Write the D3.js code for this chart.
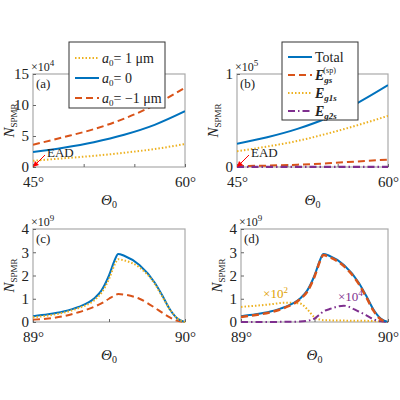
<!DOCTYPE html>
<html><head><meta charset="utf-8">
<script src="https://cdn.jsdelivr.net/npm/d3@7"></script>
<style>body{margin:0;background:#fff}text{font-family:"Liberation Serif",serif;fill:#222}</style>
</head><body><div id="chart"></div>
<script>
// panel (a)/(b): theta 45..60
const thA = [45, 48, 51, 54, 57, 60]
const aPlus = [1.0, 1.4, 1.8, 2.3, 2.9, 3.7]      // x1e4
const aZero = [2.4, 3.1, 4.0, 5.2, 6.8, 9.0]
const aMinus = [3.6, 4.8, 6.1, 7.8, 10.0, 12.8]
const bTotal = [0.25, 0.32, 0.41, 0.53, 0.69, 0.88] // x1e5
const bGs = [0.01, 0.015, 0.025, 0.04, 0.06, 0.08]
const bG1 = [0.17, 0.22, 0.28, 0.36, 0.45, 0.55]
const bG2 = [0, 0, 0, 0, 0, 0]
// panel (c)/(d): theta 89..90
const thC = [89, 89.1, 89.2, 89.3, 89.4, 89.45, 89.5, 89.54, 89.56, 89.6, 89.7, 89.8, 89.85, 89.9, 89.95, 90]
const cTotal = [0.25, 0.33, 0.45, 0.65, 1.0, 1.35, 2.0, 2.7, 2.93, 2.85, 2.45, 1.7, 1.15, 0.55, 0.15, 0]
const cPlus = [0.2, 0.28, 0.4, 0.6, 0.92, 1.25, 1.85, 2.5, 2.7, 2.65, 2.35, 1.65, 1.1, 0.55, 0.15, 0]
const cMinus = [0.1, 0.15, 0.25, 0.42, 0.65, 0.8, 1.0, 1.15, 1.2, 1.18, 1.0, 0.62, 0.4, 0.2, 0.05, 0]
const dGs = [0.22, 0.3, 0.42, 0.62, 0.97, 1.3, 1.95, 2.65, 2.88, 2.8, 2.4, 1.65, 1.1, 0.5, 0.12, 0]
const dG1 = [0.65, 0.7, 0.76, 0.83, 0.8, 0.55, 0.2, 0.1, 0.08, 0.07, 0.06, 0.05, 0.05, 0.04, 0.03, 0.02]
const dG2 = [0, 0, 0, 0.01, 0.02, 0.05, 0.15, 0.35, 0.45, 0.55, 0.7, 0.45, 0.3, 0.12, 0.03, 0]

const blue = '#0072BD', orange = '#D95319', yellow = '#EDB120', purple = '#7E2F8E'
const solid = null, dash = '7,4', dot = '1.5,2', dashdot = '7,3,1.5,3'

const svg = d3.select('#chart').append('svg').attr('width', 400).attr('height', 400)

function panel(box, xd, yd, xt, xfmt, yt, exp, label, series) {
  const x = d3.scaleLinear().domain(xd).range([box.x0, box.x1])
  const y = d3.scaleLinear().domain(yd).range([box.y1, box.y0])
  const g = svg.append('g')
  g.append('rect').attr('x', box.x0).attr('y', box.y0).attr('width', box.x1 - box.x0)
    .attr('height', box.y1 - box.y0).attr('fill', '#fff').attr('stroke', '#aaa').attr('stroke-width', 1.2)
  const ax = g.append('g').attr('transform', `translate(0,${box.y1})`)
    .call(d3.axisBottom(x).tickValues(xt).tickSize(-3).tickFormat(xfmt))
  const ay = g.append('g').attr('transform', `translate(${box.x0},0)`)
    .call(d3.axisLeft(y).tickValues(yt).tickSize(-3).tickFormat(d3.format('d')))
  ;[ax, ay].forEach(a => {
    a.select('.domain').remove()
    a.selectAll('line').attr('stroke', '#666')
    a.selectAll('text').style('font-size', '15px').attr('fill', '#222')
  })
  ax.selectAll('text').attr('dy', '1.1em')
  ax.selectAll('.tick').filter((d, i) => i > 0 && i < xt.length - 1).select('text').remove()
  ay.selectAll('text').attr('dx', '-1px')
  const t = g.append('text').attr('x', box.x0 - 2).attr('y', box.y0 - 3).style('font-size', '12px')
  t.append('tspan').text('×10')
  t.append('tspan').text(exp).attr('dy', -5).style('font-size', '9px')
  g.append('text').attr('x', box.x0 + 3).attr('y', box.y0 + 14).style('font-size', '13px').text(label)
  const yl = g.append('text').attr('transform', `translate(${box.x0 - 19},${(box.y0 + box.y1) / 2}) rotate(-90)`)
    .attr('text-anchor', 'middle').style('font-size', '15px').style('font-style', 'italic')
  yl.append('tspan').text('N')
  yl.append('tspan').text('SPMR').style('font-style', 'normal').style('font-size', '9px').attr('dy', 3)
  const xl = g.append('text').attr('x', (box.x0 + box.x1) / 2).attr('y', box.y1 + 38)
    .attr('text-anchor', 'middle').style('font-size', '15px').style('font-style', 'italic')
  xl.append('tspan').text('Θ')
  xl.append('tspan').text('0').style('font-style', 'normal').style('font-size', '10px').attr('dy', 3)
  const clip = 'clip' + label.replace(/\W/g, '')
  svg.append('clipPath').attr('id', clip).append('rect').attr('x', box.x0).attr('y', box.y0 - 1)
    .attr('width', box.x1 - box.x0).attr('height', box.y1 - box.y0 + 2)
  series.forEach(s => {
    g.append('path').datum(s.v).attr('clip-path', `url(#${clip})`)
      .attr('d', d3.line().x((d, i) => x(s.x[i])).y(d => y(d)).curve(d3.curveMonotoneX))
      .attr('fill', 'none').attr('stroke', s.c).attr('stroke-width', s.w || 2)
      .attr('stroke-dasharray', s.d)
  })
  return { x, y, g }
}

const degA = d => d + '°'
const pa = panel({ x0: 33, x1: 185, y0: 74, y1: 167 }, [45, 60], [0, 15], [45, 50, 55, 60], degA, [0, 5, 10, 15], '4', '(a)', [
  { x: thA, v: aPlus, c: yellow, d: dot },
  { x: thA, v: aZero, c: blue, d: solid },
  { x: thA, v: aMinus, c: orange, d: dash }
])
const pb = panel({ x0: 237, x1: 388, y0: 74, y1: 167 }, [45, 60], [0, 1], [45, 50, 55, 60], degA, [0, 1], '5', '(b)', [
  { x: thA, v: bTotal, c: blue, d: solid },
  { x: thA, v: bGs, c: orange, d: dash },
  { x: thA, v: bG1, c: yellow, d: dot },
  { x: thA, v: bG2, c: purple, d: dashdot, w: 2.5 }
])
const pc = panel({ x0: 33, x1: 185, y0: 229, y1: 322 }, [89, 90], [0, 4], [89, 89.5, 90], degA, [0, 1, 2, 3, 4], '9', '(c)', [
  { x: thC, v: cMinus, c: orange, d: dash },
  { x: thC, v: cTotal, c: blue, d: solid },
  { x: thC, v: cPlus, c: yellow, d: dot }
])
const pd = panel({ x0: 241, x1: 388, y0: 229, y1: 322 }, [89, 90], [0, 4], [89, 89.5, 90], degA, [0, 1, 2, 3, 4], '9', '(d)', [
  { x: thC, v: dG1, c: yellow, d: dot },
  { x: thC, v: dG2, c: purple, d: dashdot },
  { x: thC, v: cTotal, c: blue, d: solid },
  { x: thC, v: dGs, c: orange, d: dash, w: 2.5 }
])

// EAD arrows
;[pa, pb].forEach(p => {
  const x0 = p.x(45), y0 = p.y(0)
  p.g.append('line').attr('x1', x0 + 12).attr('y1', y0 - 12).attr('x2', x0 + 2).attr('y2', y0 - 2)
    .attr('stroke', 'red').attr('stroke-width', 1)
  p.g.append('path').attr('d', `M${x0},${y0}l6,-2l-4,-4z`).attr('fill', 'red')
  p.g.append('text').attr('x', x0 + 14).attr('y', y0 - 10).style('font-size', '13px').attr('fill', 'red').text('EAD')
})

// multiplier notes in (d)
function note(x, y, exp, col) {
  const t = svg.append('text').attr('x', x).attr('y', y).style('font-size', '13px').attr('fill', col)
  t.append('tspan').text('×10').attr('fill', col)
  t.append('tspan').text(exp).attr('dy', -5).style('font-size', '9px').attr('fill', col)
}
note(pd.x(89.15), pd.y(1.05), '2', '#e0a000')
note(pd.x(89.66), pd.y(0.9), '4', purple)

// legends
function legend(x0, y0, w, items, rowH) {
  const g = svg.append('g')
  g.append('rect').attr('x', x0).attr('y', y0).attr('width', w).attr('height', items.length * rowH + 6)
    .attr('fill', '#fff').attr('stroke', '#333').attr('stroke-width', 1)
  items.forEach((it, i) => {
    const yy = y0 + 6 + rowH * (i + 0.5)
    g.append('line').attr('x1', x0 + 6).attr('x2', x0 + 30).attr('y1', yy).attr('y2', yy)
      .attr('stroke', it.c).attr('stroke-width', 2).attr('stroke-dasharray', it.d)
    const t = g.append('text').attr('x', x0 + 33).attr('y', yy + 5).style('font-size', '14px')
    it.t(t)
  })
}
const aLab = v => t => {
  t.append('tspan').text('a').style('font-style', 'italic')
  t.append('tspan').text('0').style('font-size', '9px').attr('dy', 3)
  t.append('tspan').text(v).attr('dy', -3)
}
legend(69, 42, 96, [
  { c: yellow, d: dot, t: aLab('= 1 μm') },
  { c: blue, d: solid, t: aLab('= 0') },
  { c: orange, d: dash, t: aLab('= −1 μm') }
], 20)
const eLab = (sub, sup) => t => {
  t.append('tspan').text('E').style('font-style', 'italic').style('font-weight', 'bold')
  t.append('tspan').text(sub).style('font-style', 'italic').style('font-weight', 'bold').style('font-size', '9px').attr('dy', 3)
  if (sup) t.append('tspan').text(sup).style('font-size', '8px').attr('dx', -9).attr('dy', -10)
}
legend(282, 42, 76, [
  { c: blue, d: solid, t: t => t.text('Total') },
  { c: orange, d: dash, t: eLab('gs', '(sp)') },
  { c: yellow, d: dot, t: eLab('g1s') },
  { c: purple, d: dashdot, t: eLab('g2s') }
], 18)
</script></body></html>
